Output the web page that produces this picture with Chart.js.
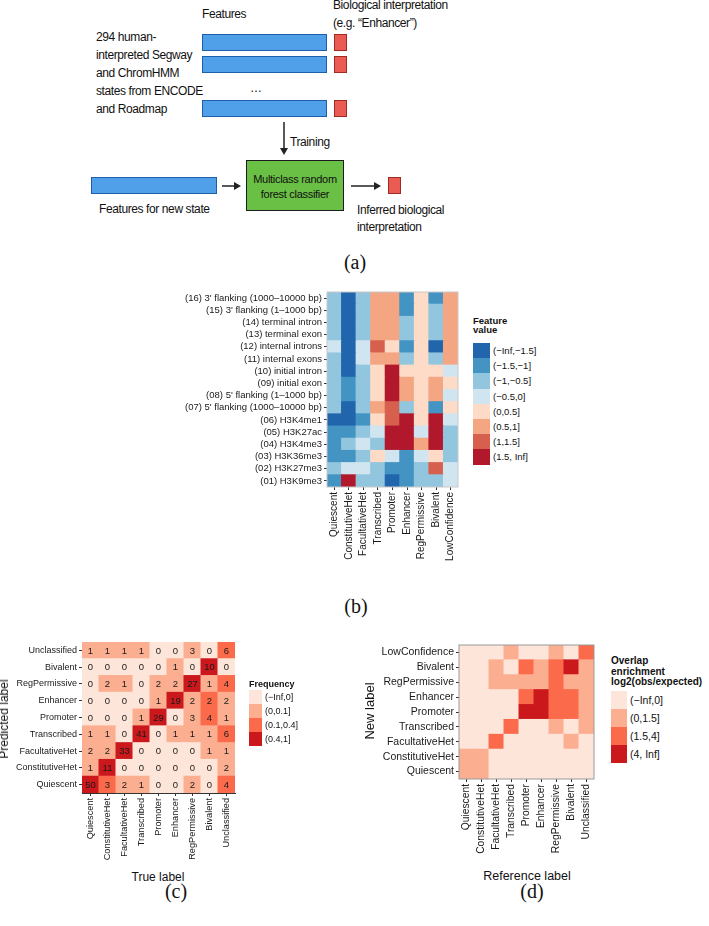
<!DOCTYPE html>
<html lang="en">
  <head>
    <meta charset="utf-8" />
    <title>Inferring biological interpretation of chromatin states</title>
    <style>
      * {
        margin: 0;
        padding: 0;
      }
      body {
        width: 709px;
        height: 926px;
        position: relative;
        overflow: hidden;
        background: #fff;
        color: #111;
        font-family: 'Liberation Sans', Arial, sans-serif;
      }
      .t {
        position: absolute;
        white-space: nowrap;
      }
      .diag {
        font-size: 12px;
        line-height: 14px;
        letter-spacing: -0.4px;
      }
      .bar {
        position: absolute;
        background: #4f9fe9;
        border: 1px solid #1f5ea8;
        box-sizing: border-box;
      }
      .sq {
        position: absolute;
        background: #ea5b53;
        border: 1px solid #9e2a22;
        box-sizing: border-box;
      }
      .panel {
        position: absolute;
        width: 50px;
        text-align: center;
        font-family: 'Liberation Serif', 'Times New Roman', serif;
        font-size: 20px;
        line-height: 24px;
      }
      canvas {
        position: absolute;
      }
      .key {
        position: absolute;
      }
    </style>
  </head>
  <body>
    <!-- (a) workflow diagram -->
    <div class="t diag" style="left: 333px; top: -2px">Biological interpretation</div>
    <div class="t diag" style="left: 333px; top: 16px">(e.g. “Enhancer”)</div>
    <div class="t diag" style="left: 202px; top: 7px">Features</div>
    <div class="t diag" style="left: 96px; top: 28px; line-height: 18px">
      294 human-<br />interpreted Segway<br />and ChromHMM<br />states from ENCODE<br />and Roadmap
    </div>
    <div class="bar" style="left: 202px; top: 34px; width: 125px; height: 17px"></div>
    <div class="bar" style="left: 202px; top: 56px; width: 125px; height: 17px"></div>
    <div class="bar" style="left: 202px; top: 100px; width: 125px; height: 17px"></div>
    <div class="sq" style="left: 334px; top: 34px; width: 13px; height: 17px"></div>
    <div class="sq" style="left: 334px; top: 56px; width: 13px; height: 17px"></div>
    <div class="sq" style="left: 334px; top: 100px; width: 13px; height: 17px"></div>
    <div class="t diag" style="left: 250px; top: 81px">…</div>
    <div class="t diag" style="left: 290px; top: 135px">Training</div>
    <div
      style="position: absolute; left: 246px; top: 160px; width: 98px; height: 51px; background: #6abf45; border: 1.5px solid #1c1c1c; box-sizing: border-box"
    ></div>
    <div class="t" style="left: 246px; top: 172px; width: 98px; text-align: center; font-size: 11px; line-height: 15px; letter-spacing: -0.3px">
      Multiclass random<br />forest classifier
    </div>
    <div class="bar" style="left: 91px; top: 177px; width: 126px; height: 17px"></div>
    <div class="sq" style="left: 388px; top: 177px; width: 13px; height: 17px"></div>
    <div class="t diag" style="left: 99px; top: 202px">Features for new state</div>
    <div class="t diag" style="left: 357px; top: 202px; line-height: 17px">Inferred biological<br />interpretation</div>
    <svg style="position: absolute; left: 0; top: 0" width="709" height="240">
      <g stroke="#222" stroke-width="1.5" fill="#222">
        <line x1="284" y1="122" x2="284" y2="149" />
        <polygon points="280,148 288,148 284,155" stroke="none" />
        <line x1="222" y1="186" x2="235" y2="186" />
        <polygon points="234,182 234,190 241,186" stroke="none" />
        <line x1="351" y1="186" x2="375" y2="186" />
        <polygon points="374,182 374,190 381,186" stroke="none" />
      </g>
    </svg>
    <div class="panel" style="left: 330px; top: 250px">(a)</div>

    <!-- (b), (c), (d) heatmaps -->
    <canvas id="chartB" width="312" height="282" style="left: 150px; top: 285px; width: 312px; height: 282px"></canvas>
    <div class="panel" style="left: 331px; top: 594px">(b)</div>

    <canvas id="chartC" width="240" height="233" style="left: 0px; top: 635px; width: 240px; height: 233px"></canvas>
    <div class="t" style="left: 4px; top: 719px; font-size: 12px; transform: translate(-50%, -50%) rotate(-90deg)">Predicted label</div>
    <div class="t" style="left: 158px; top: 870px; font-size: 12px; transform: translateX(-50%)">True label</div>
    <div class="panel" style="left: 151px; top: 879px">(c)</div>

    <canvas id="chartD" width="222" height="226" style="left: 376px; top: 638px; width: 222px; height: 226px"></canvas>
    <div class="t" style="left: 369px; top: 711px; font-size: 13px; transform: translate(-50%, -50%) rotate(-90deg)">New label</div>
    <div class="t" style="left: 527px; top: 869px; font-size: 12.5px; transform: translateX(-50%)">Reference label</div>
    <div class="panel" style="left: 507px; top: 879px">(d)</div>

    <script src="https://cdn.jsdelivr.net/npm/chart.js"></script>
    <script>
      // ---------- data ----------
      // (b) feature values per state (binned), rows listed top to bottom
      const featureRows = [
        "(16) 3' flanking (1000–10000 bp)",
        "(15) 3' flanking (1–1000 bp)",
        '(14) terminal intron',
        '(13) terminal exon',
        '(12) internal introns',
        '(11) internal exons',
        '(10) initial intron',
        '(09) initial exon',
        "(08) 5' flanking (1–1000 bp)",
        "(07) 5' flanking (1000–10000 bp)",
        '(06) H3K4me1',
        '(05) H3K27ac',
        '(04) H3K4me3',
        '(03) H3K36me3',
        '(02) H3K27me3',
        '(01) H3K9me3',
      ];
      const featureCols = ['Quiescent', 'ConstitutiveHet', 'FacultativeHet', 'Transcribed', 'Promoter', 'Enhancer', 'RegPermissive', 'Bivalent', 'LowConfidence'];
      // bin index: 0 = (-Inf,-1.5] ... 7 = (1.5, Inf]
      const featureBins = [
        [2, 0, 2, 5, 5, 1, 4, 1, 5],
        [2, 0, 2, 5, 5, 1, 4, 2, 5],
        [2, 0, 2, 5, 5, 2, 4, 2, 5],
        [2, 0, 2, 5, 5, 2, 4, 2, 5],
        [3, 0, 3, 6, 4, 1, 4, 0, 5],
        [2, 0, 3, 5, 5, 2, 4, 2, 5],
        [2, 0, 2, 4, 7, 4, 4, 4, 3],
        [2, 1, 2, 4, 7, 5, 4, 5, 4],
        [2, 1, 2, 4, 7, 5, 4, 5, 3],
        [2, 0, 2, 5, 6, 2, 4, 1, 4],
        [0, 0, 1, 4, 6, 7, 4, 7, 3],
        [1, 1, 2, 3, 7, 7, 3, 7, 2],
        [1, 2, 3, 2, 7, 7, 5, 7, 2],
        [1, 1, 2, 4, 3, 1, 3, 4, 2],
        [2, 3, 3, 2, 1, 1, 2, 6, 3],
        [1, 7, 2, 2, 0, 1, 2, 2, 3],
      ];
      const featureLegend = ['(−Inf,−1.5]', '(−1.5,−1]', '(−1,−0.5]', '(−0.5,0]', '(0,0.5]', '(0.5,1]', '(1,1.5]', '(1.5, Inf]'];
      const rdbu = ['#2166ac', '#4393c3', '#92c5de', '#d1e5f0', '#fddbc7', '#f4a582', '#d6604d', '#b2182b'];

      // (c) confusion matrix, rows = predicted (top to bottom), cols = true
      const predRows = ['Unclassified', 'Bivalent', 'RegPermissive', 'Enhancer', 'Promoter', 'Transcribed', 'FacultativeHet', 'ConstitutiveHet', 'Quiescent'];
      const trueCols = ['Quiescent', 'ConstitutiveHet', 'FacultativeHet', 'Transcribed', 'Promoter', 'Enhancer', 'RegPermissive', 'Bivalent', 'Unclassified'];
      const counts = [
        [1, 1, 1, 1, 0, 0, 3, 0, 6],
        [0, 0, 0, 0, 0, 1, 0, 10, 0],
        [0, 2, 1, 0, 2, 2, 27, 1, 4],
        [0, 0, 0, 0, 1, 19, 2, 2, 2],
        [0, 0, 0, 1, 29, 0, 3, 4, 1],
        [1, 1, 0, 41, 0, 1, 1, 1, 6],
        [2, 2, 33, 0, 0, 0, 0, 1, 1],
        [1, 11, 0, 0, 0, 0, 0, 0, 2],
        [50, 3, 2, 1, 0, 0, 2, 0, 4],
      ];
      const freqLegend = ['(−Inf,0]', '(0,0.1]', '(0.1,0.4]', '(0.4,1]'];
      const freqBreaks = [0, 0.1, 0.4];

      // (d) overlap enrichment (binned), rows = new label (top to bottom)
      const newRows = ['LowConfidence', 'Bivalent', 'RegPermissive', 'Enhancer', 'Promoter', 'Transcribed', 'FacultativeHet', 'ConstitutiveHet', 'Quiescent'];
      const refCols = ['Quiescent', 'ConstitutiveHet', 'FacultativeHet', 'Transcribed', 'Promoter', 'Enhancer', 'RegPermissive', 'Bivalent', 'Unclassified'];
      // 0 = (-Inf,0], 1 = (0,1.5], 2 = (1.5,4], 3 = (4, Inf]
      const overlapBins = [
        [0, 0, 0, 1, 0, 0, 1, 0, 2],
        [0, 0, 1, 0, 2, 1, 2, 3, 1],
        [0, 0, 1, 1, 1, 1, 2, 1, 1],
        [0, 0, 0, 0, 2, 3, 2, 2, 1],
        [0, 0, 0, 0, 3, 3, 2, 2, 1],
        [0, 0, 0, 2, 0, 0, 1, 0, 1],
        [0, 0, 2, 0, 0, 0, 0, 1, 0],
        [1, 1, 0, 0, 0, 0, 0, 0, 0],
        [1, 1, 0, 0, 0, 0, 0, 0, 0],
      ];
      const overlapLegend = ['(−Inf,0]', '(0,1.5]', '(1.5,4]', '(4, Inf]'];
      const reds = ['#fee5d9', '#fcae91', '#fb6a4a', '#cb181d'];

      // ---------- plugins ----------
      const framePlugin = {
        id: 'frame',
        afterDatasetsDraw(chart, args, opts) {
          if (!opts.color) return;
          const { ctx, chartArea: a } = chart;
          ctx.save();
          ctx.strokeStyle = opts.color;
          ctx.lineWidth = 1;
          ctx.strokeRect(a.left, a.top, a.right - a.left, a.bottom - a.top);
          ctx.restore();
        },
      };

      const cellText = {
        id: 'cellText',
        afterDatasetsDraw(chart, args, opts) {
          if (!opts.values) return;
          const { ctx } = chart;
          ctx.save();
          ctx.font = opts.size + "px 'Liberation Sans', Arial, sans-serif";
          ctx.fillStyle = '#1a1a1a';
          ctx.textAlign = 'center';
          ctx.textBaseline = 'middle';
          chart.data.datasets.forEach((ds, d) => {
            chart.getDatasetMeta(d).data.forEach((bar, j) => {
              ctx.fillText(opts.values[ds.row][j], bar.x, (bar.y + bar.base) / 2 + 0.5);
            });
          });
          ctx.restore();
        },
      };

      // heatmap = stacked unit bars, one dataset per row (bottom row first)
      function heatmap(id, o) {
        const nr = o.rows.length;
        const datasets = [];
        for (let i = nr - 1; i >= 0; i--) {
          datasets.push({
            label: o.rows[i],
            row: i,
            data: o.cols.map(() => 1),
            backgroundColor: o.cols.map((c, j) => o.color(i, j)),
            borderWidth: 0,
            inflateAmount: 0.5,
            barPercentage: 1,
            categoryPercentage: 1,
          });
        }
        const tickColor = '#333';
        return new Chart(document.getElementById(id), {
          type: 'bar',
          data: { labels: o.cols, datasets },
          options: {
            responsive: false,
            animation: false,
            devicePixelRatio: 1,
            layout: { padding: { top: o.padTop, right: o.padRight, left: 0, bottom: 0 } },
            plugins: {
              legend: { display: false },
              tooltip: { enabled: false },
              frame: { color: o.frame },
              cellText: { values: o.values, size: o.cellSize },
            },
            scales: {
              x: {
                stacked: true,
                afterFit: (s) => {
                  s.height = o.xHeight;
                  s.paddingLeft = 0;
                  s.paddingRight = 0;
                },
                ticks: {
                  autoSkip: false,
                  maxRotation: 90,
                  minRotation: 90,
                  padding: 2,
                  color: '#1a1a1a',
                  font: { family: "'Liberation Sans', Arial, sans-serif", size: o.xFont },
                },
                grid: { offset: false, drawOnChartArea: false, tickLength: 3, color: tickColor },
                border: { display: o.axisLine, color: '#333', width: 1 },
              },
              y: {
                stacked: true,
                min: 0,
                max: nr,
                afterBuildTicks: (s) => {
                  s.ticks = o.rows.map((r, k) => ({ value: k + 0.5 }));
                },
                afterFit: (s) => {
                  s.width = o.yWidth;
                  s.paddingTop = 0;
                  s.paddingBottom = 0;
                },
                ticks: {
                  autoSkip: false,
                  padding: 2,
                  color: '#1a1a1a',
                  font: { family: "'Liberation Sans', Arial, sans-serif", size: o.yFont },
                  callback: (v) => o.rows[nr - 1 - Math.floor(v)],
                },
                grid: { drawOnChartArea: false, tickLength: 3, color: tickColor },
                border: { display: o.axisLine, color: '#333', width: 1 },
              },
            },
          },
          plugins: [framePlugin, cellText],
        });
      }

      // (b)
      heatmap('chartB', {
        rows: featureRows,
        cols: featureCols,
        color: (i, j) => rdbu[featureBins[i][j]],
        yWidth: 177,
        xHeight: 80,
        padTop: 7,
        padRight: 4,
        yFont: 9.5,
        xFont: 10,
        frame: '#c8c8c8',
        axisLine: false,
      });

      // (c) colour = share of the true-label column
      const colTotals = trueCols.map((c, j) => counts.reduce((s, r) => s + r[j], 0));
      function freqBin(i, j) {
        const f = counts[i][j] / colTotals[j];
        let b = 0;
        freqBreaks.forEach((br) => {
          if (f > br) b++;
        });
        return b;
      }
      heatmap('chartC', {
        rows: predRows,
        cols: trueCols,
        color: (i, j) => reds[freqBin(i, j)],
        values: counts,
        cellSize: 9.5,
        yWidth: 82,
        xHeight: 75,
        padTop: 7,
        padRight: 5,
        yFont: 9,
        xFont: 9.2,
        axisLine: true,
      });

      // (d)
      heatmap('chartD', {
        rows: newRows,
        cols: refCols,
        color: (i, j) => reds[overlapBins[i][j]],
        yWidth: 83,
        xHeight: 85,
        padTop: 7,
        padRight: 4,
        yFont: 10.5,
        xFont: 10.3,
        frame: '#9a9a9a',
        axisLine: false,
      });

      // ---------- legends (html keys) ----------
      function legend(x, y, title, tSize, tLine, keyTop, keyW, keyH, labels, colors, lSize) {
        const t = document.createElement('div');
        t.className = 't';
        t.style.cssText = `left:${x}px;top:${y}px;font-weight:bold;font-size:${tSize}px;line-height:${tLine}px`;
        t.innerHTML = title;
        document.body.appendChild(t);
        labels.forEach((lab, k) => {
          const key = document.createElement('div');
          key.className = 'key';
          key.style.cssText = `left:${x}px;top:${keyTop + k * keyH}px;width:${keyW}px;height:${keyH}px;background:${colors[k]}`;
          document.body.appendChild(key);
          const l = document.createElement('div');
          l.className = 't';
          l.style.cssText = `left:${x + keyW + 3}px;top:${keyTop + k * keyH}px;font-size:${lSize}px;line-height:${keyH}px`;
          l.textContent = lab;
          document.body.appendChild(l);
        });
      }
      legend(473, 315.5, 'Feature<br>value', 9.5, 9.5, 343, 17, 15.2, featureLegend, rdbu, 9.5);
      legend(249, 679, 'Frequency', 9, 10, 690, 13, 14, freqLegend, reds, 9);
      legend(611, 656, 'Overlap<br>enrichment<br>log2(obs/expected)', 10, 10.5, 691, 16, 18, overlapLegend, reds, 10.5);
    </script>
  </body>
